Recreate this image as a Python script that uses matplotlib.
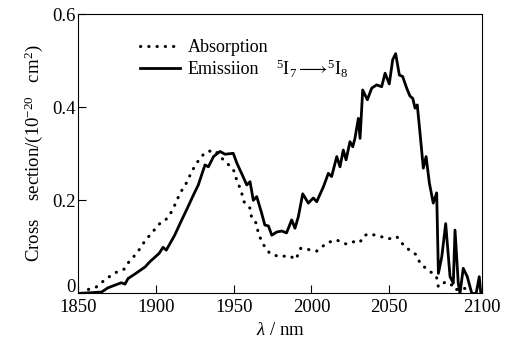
import matplotlib.pyplot as plt
from matplotlib.transforms import ScaledTranslation

plt.rcParams['font.family'] = 'Liberation Serif'
plt.rcParams['mathtext.fontset'] = 'custom'
plt.rcParams['mathtext.rm'] = 'Liberation Serif'
plt.rcParams['mathtext.it'] = 'Liberation Serif:italic'

# emission cross section (5I7 -> 5I8)
em_wl = [1850, 1865, 1869, 1877.7, 1880, 1882, 1887, 1893, 1896, 1902, 1904.5, 1906.6,
         1912, 1916, 1920, 1924, 1927.2, 1931.5, 1933.7, 1937, 1941.2, 1944.4, 1949.7,
         1952, 1956, 1958.4, 1960.5, 1962.6, 1964.8, 1968, 1970, 1972.3, 1974.5, 1977.7,
         1981, 1984, 1987.3, 1989.4, 1991.6, 1994.4, 1998, 2001.2, 2003.4, 2007.7, 2010.9,
         2013, 2016.3, 2018.4, 2020.5, 2022.3, 2024.8, 2026.6, 2028, 2030.2, 2031.3, 2033,
         2036, 2038.8, 2042, 2045.2, 2047.4, 2050.1, 2052.3, 2054.2, 2056.6, 2058.7, 2061.3,
         2063.4, 2065.2, 2066.7, 2068.1, 2069.9, 2072, 2073.8, 2075.9, 2078.4, 2080.6,
         2081.7, 2083.9, 2086.4, 2089.2, 2091.3, 2092.4, 2094.5, 2095.6, 2097.7, 2100.3,
         2103.2, 2106, 2108, 2109]
em_cs = [0.0, 0.003, 0.012, 0.023, 0.02, 0.032, 0.043, 0.057, 0.068, 0.086, 0.099, 0.093,
         0.125, 0.154, 0.182, 0.211, 0.233, 0.276, 0.272, 0.294, 0.305, 0.299, 0.301,
         0.28, 0.251, 0.233, 0.24, 0.2, 0.208, 0.172, 0.147, 0.145, 0.125, 0.132,
         0.134, 0.13, 0.158, 0.14, 0.165, 0.214, 0.194, 0.205, 0.197, 0.229, 0.258,
         0.251, 0.294, 0.272, 0.308, 0.287, 0.326, 0.315, 0.333, 0.376, 0.333, 0.437,
         0.416, 0.441, 0.448, 0.444, 0.473, 0.45, 0.502, 0.515, 0.469, 0.466, 0.441,
         0.424, 0.419, 0.398, 0.405, 0.344, 0.269, 0.294, 0.237, 0.194, 0.216,
         0.043, 0.079, 0.15, 0.036, 0.022, 0.136, 0.022, 0.0, 0.054, 0.036,
         0.0, 0.0, 0.036, 0.0]

# absorption cross section
ab_wl = [1852, 1854, 1861.6, 1867, 1873.4, 1879.4, 1882.4, 1888, 1892.7, 1897, 1902.4,
         1905.6, 1908.8, 1912.4, 1915.4, 1919.7, 1923, 1926.2, 1929.4, 1933, 1938, 1943.3,
         1949.7, 1951.9, 1954.7, 1956.6, 1960.5, 1961.6, 1964.8, 1965.8, 1969.3, 1973.2,
         1979.2, 1985.8, 1990, 1993.1, 1997, 2003.4, 2010.2, 2016.3, 2019.5, 2022.7, 2028.1,
         2031.3, 2033.4, 2036.6, 2043, 2049.5, 2054.9, 2060.2, 2067.1, 2070.3, 2075.2,
         2080.4, 2081.7, 2086.3, 2090.3, 2092.4, 2096, 2100]
ab_cs = [0.0, 0.006, 0.014, 0.029, 0.044, 0.052, 0.067, 0.088, 0.112, 0.129, 0.15,
         0.156, 0.168, 0.192, 0.215, 0.238, 0.262, 0.28, 0.295, 0.305, 0.307, 0.287,
         0.267, 0.244, 0.221, 0.197, 0.183, 0.161, 0.15, 0.128, 0.104, 0.086,
         0.079, 0.081, 0.073, 0.097, 0.095, 0.091, 0.109, 0.115, 0.109, 0.106, 0.112,
         0.11, 0.123, 0.128, 0.124, 0.117, 0.122, 0.1, 0.084, 0.063, 0.05,
         0.037, 0.014, 0.025, 0.018, 0.007, 0.012, 0.01]

xticks = [1850, 1900, 1950, 2000, 2050, 2110]
xticklabels = ['1850', '1900', '1950', '2000', '2050', '2100']
yticks = [0, 0.2, 0.4, 0.6]
yticklabels = ['0', '0.2', '0.4', '0.6']

fig = plt.figure(figsize=(5.17, 3.44), dpi=100)
ax = fig.add_axes([0.1515, 0.147, 0.7815, 0.812])

ax.plot(ab_wl, ab_cs, color='black', lw=2.2, linestyle=(0, (0.1, 2.6)),
        dash_capstyle='round', label='Absorption')
ax.plot(em_wl, em_cs, color='black', lw=2.0, label='Emissiion')

ax.set_xlim(1850, 2110)
ax.set_ylim(0, 0.6)
ax.set_xticks(xticks)
ax.set_xticklabels(xticklabels)
ax.set_yticks(yticks)
ax.set_yticklabels(yticklabels)
ax.tick_params(direction='in', length=6, width=0.8, labelsize=13.5)
ax.tick_params(axis='x', pad=4)
ax.tick_params(axis='y', pad=2)
# lift the "0" label a little so it clears 1850
lbl0 = ax.get_yticklabels()[0]
lbl0.set_transform(lbl0.get_transform() + ScaledTranslation(0, 6 / 72, fig.dpi_scale_trans))

ax.set_xlabel(r'$\mathit{\lambda}$ / nm', fontsize=13.5, labelpad=4)
ax.set_ylabel(r'Cross    section/(10$^{-20}$   cm$^{2}$)', fontsize=13.5, labelpad=5)

ax.legend(loc='upper left', bbox_to_anchor=(0.135, 0.935), frameon=False,
          fontsize=13, handlelength=2.2, handletextpad=0.45, labelspacing=0.25,
          borderaxespad=0)
ax.text(1977, 0.483, r'$^{5}\mathrm{I}_{7}\longrightarrow\!{}^{5}\mathrm{I}_{8}$',
        fontsize=13, va='center', ha='left')

fig.savefig('out.png', dpi=100)
